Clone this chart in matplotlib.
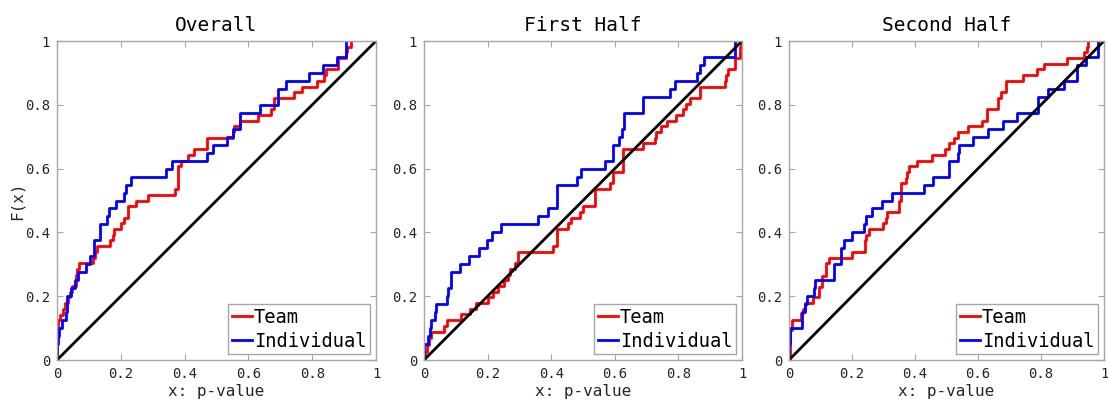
import matplotlib
matplotlib.use("Agg")
import matplotlib.pyplot as plt

plt.rcParams['font.family'] = ['DejaVu Sans Mono']

titles = ["Overall", "First Half", "Second Half"]
series_labels = ["Team", "Individual"]
tick_vals = [0, 0.2, 0.4, 0.6, 0.8, 1]
tick_labels = ["0", "0.2", "0.4", "0.6", "0.8", "1"]

# ---- Overall ----
overall_team_x = [0.000, 0.003, 0.009, 0.020, 0.025, 0.035, 0.042, 0.048, 0.058, 0.062,
                  0.068, 0.113, 0.119, 0.126, 0.165, 0.176, 0.178, 0.202, 0.210, 0.223,
                  0.249, 0.284, 0.369, 0.380, 0.390, 0.411, 0.429, 0.469, 0.553, 0.556,
                  0.574, 0.631, 0.670, 0.680, 0.744, 0.768, 0.815, 0.838, 0.842, 0.880,
                  0.905, 0.908, 0.921]
overall_team_F = [0.070, 0.126, 0.141, 0.160, 0.178, 0.196, 0.214, 0.232, 0.267, 0.285,
                  0.304, 0.321, 0.339, 0.357, 0.375, 0.393, 0.410, 0.428, 0.446, 0.482,
                  0.500, 0.518, 0.536, 0.607, 0.625, 0.643, 0.661, 0.696, 0.714, 0.732,
                  0.750, 0.768, 0.786, 0.821, 0.839, 0.857, 0.875, 0.893, 0.911, 0.946,
                  0.964, 0.982, 1.000]
overall_ind_x = [0.000, 0.003, 0.006, 0.017, 0.027, 0.031, 0.032, 0.045, 0.056, 0.066,
                 0.090, 0.103, 0.115, 0.136, 0.157, 0.163, 0.186, 0.209, 0.216, 0.233,
                 0.343, 0.360, 0.469, 0.490, 0.532, 0.553, 0.574, 0.637, 0.694, 0.718,
                 0.791, 0.833, 0.877, 0.906]
overall_ind_F = [0.050, 0.075, 0.100, 0.125, 0.150, 0.175, 0.200, 0.225, 0.250, 0.275,
                 0.300, 0.325, 0.375, 0.425, 0.450, 0.475, 0.500, 0.525, 0.550, 0.575,
                 0.600, 0.625, 0.650, 0.675, 0.700, 0.725, 0.775, 0.800, 0.850, 0.875,
                 0.900, 0.925, 0.950, 1.000]

# ---- First Half ----
first_team_x = [0.003, 0.008, 0.016, 0.022, 0.064, 0.071, 0.116, 0.145, 0.165, 0.200,
                0.218, 0.234, 0.252, 0.265, 0.270, 0.286, 0.296, 0.406, 0.417, 0.453,
                0.462, 0.490, 0.500, 0.537, 0.585, 0.595, 0.626, 0.689, 0.726, 0.731,
                0.744, 0.763, 0.792, 0.815, 0.825, 0.836, 0.867, 0.946, 0.951, 0.956,
                0.977, 0.993, 0.997]
first_team_F = [0.026, 0.047, 0.070, 0.089, 0.107, 0.125, 0.143, 0.161, 0.179, 0.196,
                0.214, 0.232, 0.250, 0.268, 0.286, 0.304, 0.339, 0.357, 0.411, 0.429,
                0.446, 0.464, 0.482, 0.536, 0.554, 0.589, 0.661, 0.679, 0.696, 0.714,
                0.732, 0.750, 0.768, 0.786, 0.804, 0.821, 0.857, 0.875, 0.893, 0.911,
                0.946, 0.982, 1.000]
first_ind_x = [0.000, 0.014, 0.019, 0.022, 0.035, 0.038, 0.071, 0.076, 0.085, 0.113,
               0.141, 0.174, 0.197, 0.215, 0.241, 0.359, 0.390, 0.417, 0.419, 0.482,
               0.495, 0.569, 0.595, 0.614, 0.622, 0.629, 0.689, 0.773, 0.789, 0.857,
               0.867, 0.880, 0.979]
first_ind_F = [0.050, 0.075, 0.100, 0.125, 0.150, 0.175, 0.200, 0.225, 0.275, 0.300,
               0.325, 0.350, 0.375, 0.400, 0.425, 0.450, 0.475, 0.500, 0.550, 0.575,
               0.600, 0.625, 0.675, 0.700, 0.725, 0.775, 0.825, 0.850, 0.875, 0.900,
               0.925, 0.950, 1.000]

# ---- Second Half ----
second_team_x = [0.003, 0.008, 0.037, 0.043, 0.050, 0.077, 0.095, 0.106, 0.116, 0.118,
                 0.127, 0.200, 0.242, 0.246, 0.255, 0.297, 0.307, 0.312, 0.349, 0.354,
                 0.357, 0.370, 0.375, 0.381, 0.407, 0.454, 0.496, 0.508, 0.525, 0.538,
                 0.569, 0.613, 0.630, 0.662, 0.672, 0.690, 0.742, 0.787, 0.808, 0.882,
                 0.938, 0.945, 0.950]
second_team_F = [0.094, 0.124, 0.147, 0.161, 0.178, 0.196, 0.230, 0.264, 0.286, 0.304,
                 0.321, 0.339, 0.375, 0.393, 0.410, 0.428, 0.446, 0.464, 0.500, 0.536,
                 0.554, 0.571, 0.589, 0.607, 0.625, 0.643, 0.661, 0.679, 0.696, 0.714,
                 0.732, 0.750, 0.786, 0.821, 0.839, 0.875, 0.893, 0.911, 0.929, 0.946,
                 0.964, 0.982, 1.000]
second_ind_x = [0.000, 0.003, 0.040, 0.050, 0.058, 0.079, 0.082, 0.142, 0.164, 0.174,
                0.200, 0.239, 0.244, 0.263, 0.295, 0.326, 0.428, 0.456, 0.508, 0.536,
                0.540, 0.585, 0.632, 0.679, 0.724, 0.789, 0.821, 0.873, 0.915, 0.944,
                0.980]
second_ind_F = [0.050, 0.100, 0.150, 0.175, 0.200, 0.225, 0.250, 0.300, 0.350, 0.375,
                0.400, 0.425, 0.450, 0.475, 0.500, 0.525, 0.550, 0.575, 0.625, 0.650,
                0.675, 0.700, 0.725, 0.750, 0.775, 0.825, 0.850, 0.875, 0.925, 0.950,
                1.000]

panels = [
    (overall_team_x, overall_team_F, overall_ind_x, overall_ind_F),
    (first_team_x, first_team_F, first_ind_x, first_ind_F),
    (second_team_x, second_team_F, second_ind_x, second_ind_F),
]

W, H = 1108, 401
fig = plt.figure(figsize=(W / 100, H / 100), dpi=100)
lefts = [57, 424, 789]
widths = [319, 318, 315]
ax_h = 319
bottom_px = 360

spine_col = '#a6a6a6'
text_col = '#262626'

for i, (tx, tF, ix, iF) in enumerate(panels):
    ax = fig.add_axes([lefts[i] / W, (H - bottom_px) / H, widths[i] / W, ax_h / H])
    ax.step([0] + tx, [0] + tF, where='post', color=(1, 0, 0), lw=2.0, label=series_labels[0])
    ax.step([0] + ix, [0] + iF, where='post', color=(0, 0, 1), lw=2.0, label=series_labels[1])
    ax.plot([0, 1], [0, 1], color='k', lw=2.0)
    ax.set_xlim(0, 1)
    ax.set_ylim(0, 1)
    ax.set_xticks(tick_vals)
    ax.set_xticklabels(tick_labels)
    ax.set_yticks(tick_vals)
    ax.set_yticklabels(tick_labels)
    ax.tick_params(direction='in', length=4, width=0.8, color=spine_col,
                   labelcolor=text_col, labelsize=10, top=True, right=True, pad=5)
    for s in ax.spines.values():
        s.set_color(spine_col)
        s.set_linewidth(1.0)
    ax.set_title(titles[i], fontsize=14, color='k', pad=7)
    ax.set_xlabel("x: p-value", fontsize=11.5, color=text_col, labelpad=2)
    if i == 0:
        ax.set_ylabel("F(x)", fontsize=11.5, color=text_col, labelpad=0)
    leg = ax.legend(loc='lower right', fontsize=13.5, frameon=True, fancybox=False,
                    framealpha=1, edgecolor=spine_col, handlelength=1.1,
                    handletextpad=0.1, borderpad=0.2, labelspacing=0.25,
                    borderaxespad=0.3)
    leg.get_frame().set_linewidth(1.0)

fig.savefig("out.png", dpi=100)
